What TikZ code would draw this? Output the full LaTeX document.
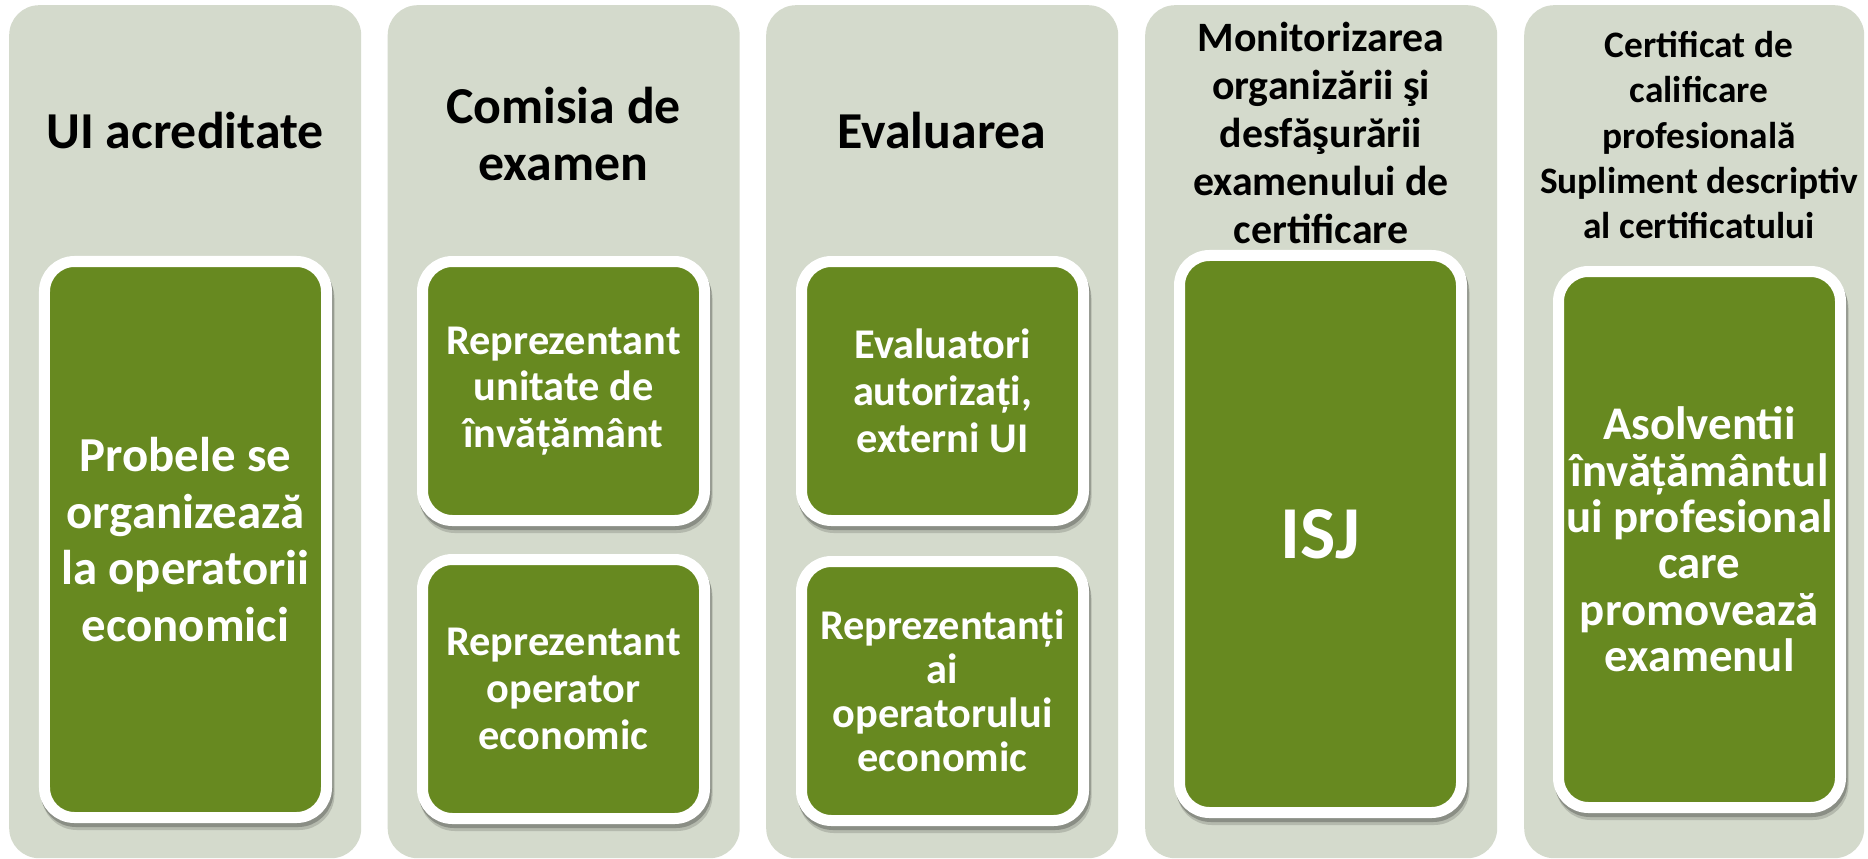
\documentclass[tikz,border=0pt]{standalone}
\usepackage{fontspec}
\setmainfont{Carlito}
\definecolor{panelbg}{RGB}{212,218,204}
\definecolor{leaf}{RGB}{103,137,32}
\tikzset{
  panel/.style={fill=panelbg, rounded corners=30bp, inner sep=0pt},
  hdr/.style={text=black, align=center, inner sep=0pt},
  shadeA/.style={draw=panelbg!85!black, fill=panelbg!85!black, line width=11bp, rounded corners=30bp, inner sep=0pt, minimum width=282bp},
  shadeB/.style={draw=panelbg!65!black, fill=panelbg!65!black, line width=11bp, rounded corners=30bp, inner sep=0pt, minimum width=282bp},
  leafbox/.style={
    draw=white, line width=11bp, fill=leaf, rounded corners=30bp,
    text=white, align=center, inner sep=0pt, minimum width=282bp},
  bigf/.style={font=\bfseries\fontsize{52}{58}\selectfont},
}
\begin{document}
\begin{tikzpicture}[x=1bp,y=-1bp]
\useasboundingbox[fill=white] (0,0) rectangle (1868,859);
% panels
\node[panel, anchor=north west, minimum width=352bp, minimum height=853bp] (p1) at (9,5) {};
\node[panel, anchor=north west, minimum width=352bp, minimum height=853bp] (p2) at (387.5,5) {};
\node[panel, anchor=north west, minimum width=352bp, minimum height=853bp] (p3) at (766,5) {};
\node[panel, anchor=north west, minimum width=352bp, minimum height=853bp] (p4) at (1145,5) {};
\node[panel, anchor=north west, minimum width=340bp, minimum height=853bp] (p5) at (1524,5) {};
% headers
\node[hdr, bigf] (h1) at (185,131) {UI acreditate};
\node[hdr, bigf] (h2) at (563.5,134) {Comisia de\\examen};
\node[hdr, bigf] (h3) at (942,131) {Evaluarea};
\node[hdr, font=\bfseries\fontsize{42}{48}\selectfont] (h4) at (1321,133) {Monitorizarea\\organizării şi\\desfăşurării\\examenului de\\certificare};
\node[hdr, font=\bfseries\fontsize{37.5}{45.5}\selectfont] (h5) at (1699,135) {Certificat de\\calificare\\profesională\\Supliment descriptiv\\al certificatului};
% shadows of the green boxes
\node[shadeA, minimum height=556bp] (s1a) at (188,546.5) {};
\node[shadeB, minimum height=556bp] (s1b) at (187,543.5) {};
\node[shadeA, minimum height=259bp] (s2a) at (566,398) {};
\node[shadeB, minimum height=259bp] (s2b) at (565,395) {};
\node[shadeA, minimum height=259bp] (s2c) at (566,696) {};
\node[shadeB, minimum height=259bp] (s2d) at (565,693) {};
\node[shadeA, minimum height=259bp] (s3a) at (945,398) {};
\node[shadeB, minimum height=259bp] (s3b) at (944,395) {};
\node[shadeA, minimum height=259bp] (s3c) at (945,698) {};
\node[shadeB, minimum height=259bp] (s3d) at (944,695) {};
\node[shadeA, minimum height=557bp] (s4a) at (1323,541) {};
\node[shadeB, minimum height=557bp] (s4b) at (1322,538) {};
\node[shadeA, minimum height=536bp] (s5a) at (1702,546.5) {};
\node[shadeB, minimum height=536bp] (s5b) at (1701,543.5) {};
% green boxes
\node[leafbox, minimum height=556bp, font=\bfseries\fontsize{49}{57}\selectfont] (b1) at (185.5,539.5) {Probele se\\organizează\\la operatorii\\economici};
\node[leafbox, minimum height=259bp, font=\bfseries\fontsize{42.5}{47}\selectfont] (b2a) at (563.5,391) {Reprezentant\\unitate de\\învățământ};
\node[leafbox, minimum height=259bp, font=\bfseries\fontsize{42.5}{47}\selectfont] (b2b) at (563.5,689) {Reprezentant\\operator\\economic};
\node[leafbox, minimum height=259bp, font=\bfseries\fontsize{42.5}{47}\selectfont] (b3a) at (942.5,391) {Evaluatori\\autorizați,\\externi UI};
\node[leafbox, minimum height=259bp, font=\bfseries\fontsize{42.5}{44}\selectfont] (b3b) at (942.5,691) {Reprezentanți\\ai\\operatorului\\economic};
\node[leafbox, minimum height=557bp, font=\bfseries\fontsize{75}{80}\selectfont] (b4) at (1320.5,534) {ISJ};
\node[leafbox, minimum height=536bp, font=\bfseries\fontsize{47}{46.5}\selectfont] (b5) at (1699.5,539.5) {Asolventii\\învățământul\\ui profesional\\care\\promovează\\examenul};
\end{tikzpicture}
\end{document}
